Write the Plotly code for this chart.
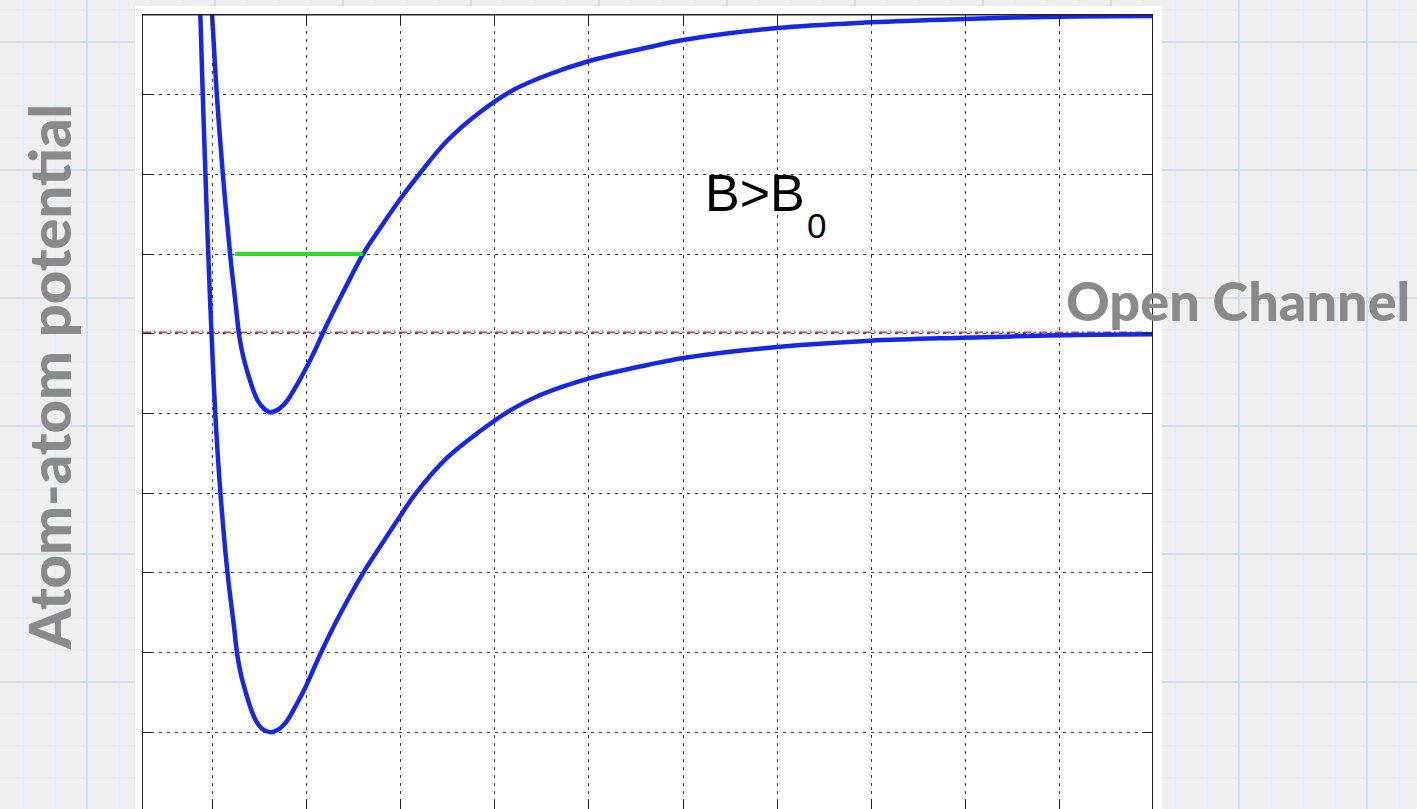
import plotly.graph_objects as go

# Closed-channel potential (upper curve): separation r vs energy V
upper_r = [0.973, 0.997, 1.047, 1.111, 1.188, 1.247, 1.287, 1.330, 1.372, 1.415, 1.475, 1.544, 1.613,
           1.698, 1.791, 1.890, 1.985, 2.081, 2.180, 2.389, 2.605, 2.782, 2.995, 3.207, 3.491,
           3.845, 4.196, 4.557, 5.003, 5.620, 6.002, 7.001, 7.989, 8.988, 9.998, 11.0]
upper_v = [10.439, 10.0, 9.0, 8.005, 7.001, 6.374, 5.960, 5.703, 5.521, 5.358, 5.176, 5.066, 5.015,
           5.050, 5.157, 5.345, 5.546, 5.772, 6.026, 6.524, 7.010, 7.327, 7.691, 8.018, 8.419,
           8.783, 9.059, 9.247, 9.423, 9.592, 9.686, 9.837, 9.908, 9.950, 9.979, 9.987]

# Open-channel potential (lower curve)
lower_r = [0.859, 0.872, 0.898, 0.926, 0.956, 0.990, 1.030, 1.085, 1.160, 1.225, 1.268, 1.312,
           1.355, 1.397, 1.459, 1.531, 1.613, 1.698, 1.791, 1.890, 1.985, 2.070, 2.155, 2.368, 2.605,
           2.782, 2.960, 3.165, 3.491, 3.845, 4.129, 4.482, 5.003, 5.620, 6.005, 6.998, 7.989,
           8.991, 9.998, 11.0]
lower_v = [10.439, 10.0, 9.0, 8.005, 7.001, 6.026, 5.015, 4.011, 3.007, 2.371, 1.944, 1.681,
           1.499, 1.336, 1.154, 1.041, 1.0, 1.035, 1.142, 1.343, 1.556, 1.782, 2.004, 2.509, 3.007,
           3.331, 3.651, 4.003, 4.442, 4.780, 5.015, 5.232, 5.442, 5.609, 5.697, 5.834, 5.913,
           5.951, 5.981, 5.994]

# Bound state of the closed channel
bound_r = [1.241, 2.598]
bound_v = [7.0, 7.0]

# Open-channel threshold energy
threshold_v = 6.02

x_range = [0.263, 10.98]
y_range = [0.038, 10.0]
x_ticks = [1, 2, 3, 4, 5, 6, 7, 8, 9, 10]
y_ticks = [1, 2, 3, 4, 5, 6, 7, 8, 9]

W, H = 1417, 809
ML, MR, MT, MB = 143, 265, 15, 0
PW, PH = W - ML - MR, H - MT - MB

BLUE = "#1428e6"
GRAY_TEXT = "#8a8a8a"
LABEL_FONT = "Lato, Noto Sans, DejaVu Sans, sans-serif"


def px_to_paper_x(px):
    return (px - ML) / PW


def px_to_paper_y(py):
    return (H - MB - py) / PH


fig = go.Figure()

fig.add_trace(go.Scatter(
    x=x_range, y=[threshold_v, threshold_v], mode="lines",
    line=dict(color="#d0404f", width=1.5, dash="8px,3px,2px,3px"),
    hoverinfo="skip", showlegend=False))

for r, v in ((upper_r, upper_v), (lower_r, lower_v)):
    fig.add_trace(go.Scatter(
        x=r, y=v, mode="lines",
        line=dict(color=BLUE, width=4.5, shape="spline", smoothing=1.0),
        showlegend=False))

fig.add_trace(go.Scatter(
    x=bound_r, y=bound_v, mode="lines",
    line=dict(color="#22e022", width=4),
    showlegend=False))

# Graph-paper backdrop
shapes = []
minor = "#d8e8ef"
major = "#cde1ea"
px = 23
k = 0
while px < W:
    is_major = (k % 4 == 2)
    shapes.append(dict(type="line", xref="paper", yref="paper", layer="below",
                       x0=px_to_paper_x(px), x1=px_to_paper_x(px),
                       y0=px_to_paper_y(0), y1=px_to_paper_y(H),
                       line=dict(color=major if is_major else minor,
                                 width=2 if is_major else 1.2)))
    px += 32
    k += 1
py = 10
k = 0
while py < H:
    is_major = (k % 4 == 1)
    shapes.append(dict(type="line", xref="paper", yref="paper", layer="below",
                       x0=px_to_paper_x(0), x1=px_to_paper_x(W),
                       y0=px_to_paper_y(py), y1=px_to_paper_y(py),
                       line=dict(color=major if is_major else minor,
                                 width=2 if is_major else 1.2)))
    py += 32
    k += 1

# White panel behind the axes
shapes.append(dict(type="rect", xref="paper", yref="paper", layer="below",
                   x0=px_to_paper_x(135), x1=px_to_paper_x(1162),
                   y0=px_to_paper_y(6), y1=px_to_paper_y(H + 5),
                   line=dict(width=0), fillcolor="white"))

# Top frame line
shapes.append(dict(type="line", xref="paper", yref="paper",
                   x0=0, x1=1, y0=1, y1=1, line=dict(color="#222", width=1.2)))

annotations = [
    dict(text="B>B", x=6.215, y=7.773, xref="x", yref="y", xanchor="left", yanchor="middle",
         showarrow=False, font=dict(family="Liberation Sans, Arial, sans-serif", size=52, color="black")),
    dict(text="0", x=7.297, y=7.36, xref="x", yref="y", xanchor="left", yanchor="middle",
         showarrow=False, font=dict(family="Liberation Sans, Arial, sans-serif", size=35, color="black")),
    dict(text="Open Channel", x=px_to_paper_x(1238), y=px_to_paper_y(300),
         xref="paper", yref="paper", xanchor="center", yanchor="middle", showarrow=False,
         font=dict(family=LABEL_FONT, size=54, color=GRAY_TEXT, weight=900)),
    dict(text="Atom-atom potential", x=px_to_paper_x(49), y=px_to_paper_y(377),
         xref="paper", yref="paper", xanchor="center", yanchor="middle", showarrow=False,
         textangle=-90,
         font=dict(family=LABEL_FONT, size=58, color=GRAY_TEXT, weight=900)),
]

axis_common = dict(
    showticklabels=False, ticks="inside", ticklen=10, tickwidth=1.2, tickcolor="#222",
    showgrid=True, gridcolor="#333", gridwidth=1, griddash="3px,5px",
    zeroline=False, showline=True, linecolor="#222", linewidth=1.2, mirror="ticks",
    fixedrange=True,
)

fig.update_layout(
    width=W, height=H,
    margin=dict(l=ML, r=MR, t=MT, b=MB, pad=0),
    paper_bgcolor="#efefef", plot_bgcolor="white",
    xaxis=dict(range=x_range, tickvals=x_ticks, **axis_common),
    yaxis=dict(range=y_range, tickvals=y_ticks, **axis_common),
    shapes=shapes, annotations=annotations, showlegend=False,
)

fig.write_html("out.html", config={"displayModeBar": False})
